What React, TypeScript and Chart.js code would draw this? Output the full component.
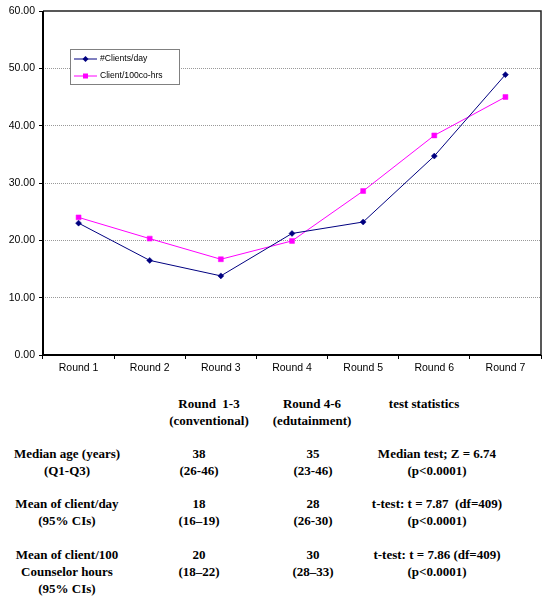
import React, { useEffect, useRef } from "react";
import { Chart, registerables } from "chart.js";

Chart.register(...registerables);

// ---------- data ----------
const rounds = ["Round 1", "Round 2", "Round 3", "Round 4", "Round 5", "Round 6", "Round 7"];
const clientsPerDay = [23.0, 16.5, 13.8, 21.2, 23.2, 34.7, 48.9];
const clientsPer100Hrs = [24.0, 20.3, 16.7, 19.9, 28.6, 38.3, 45.0];
const seriesLabels = ["#Clients/day", "Client/100co-hrs"];
const yMin = 0;
const yMax = 60;
const yStep = 10;

const colHeads = [["Round  1-3", "(conventional)"], ["Round 4-6", "(edutainment)"], ["test statistics"]];
const rowLabels = [["Median age (years)", "(Q1-Q3)"], ["Mean of client/day", "(95% CIs)"], ["Mean of client/100", "Counselor hours", "(95% CIs)"]];
const conventional = [["38", "(26-46)"], ["18", "(16–19)"], ["20", "(18–22)"]];
const edutainment = [["35", "(23-46)"], ["28", "(26-30)"], ["30", "(28–33)"]];
const testStats = [
  ["Median test; Z = 6.74", "(p<0.0001)"],
  ["t-test: t = 7.87  (df=409)", "(p<0.0001)"],
  ["t-test: t = 7.86 (df=409)", "(p<0.0001)"],
];

// ---------- layout ----------
const W = 551;
const CH = 380;
const BLUE = "#000080";
const PINK = "#FF00FF";
const LINE_H = 17;
const headCenters = [209, 312, 424];
const headMid = 403;
const rowMids = [453, 503, 554];
const rowCenters = [67, 199, 313, 437];

const framePlugin = {
  id: "frame",
  beforeDatasetsDraw(chart: any) {
    const { ctx, chartArea: a } = chart;
    ctx.save();
    ctx.strokeStyle = "#222";
    ctx.lineWidth = 1.5;
    ctx.beginPath();
    ctx.moveTo(a.left, a.top);
    ctx.lineTo(a.right, a.top);
    ctx.lineTo(a.right, a.bottom);
    ctx.stroke();
    ctx.strokeStyle = "#000";
    ctx.lineWidth = 2;
    ctx.beginPath();
    ctx.moveTo(a.left, a.top);
    ctx.lineTo(a.left, a.bottom);
    ctx.lineTo(a.right, a.bottom);
    ctx.stroke();
    ctx.restore();
  },
};

const legendPlugin = {
  id: "boxLegend",
  afterDraw(chart: any) {
    const { ctx } = chart;
    const bx = 70.5, by = 49.5, bw = 109, bh = 35;
    ctx.save();
    ctx.fillStyle = "#fff";
    ctx.fillRect(bx, by, bw, bh);
    ctx.strokeStyle = "#808080";
    ctx.lineWidth = 1;
    ctx.strokeRect(bx, by, bw, bh);
    const rows = [59, 76];
    chart.data.datasets.forEach((ds: any, i: number) => {
      const y = rows[i];
      ctx.strokeStyle = ds.borderColor;
      ctx.lineWidth = 1;
      ctx.beginPath();
      ctx.moveTo(74, y);
      ctx.lineTo(97, y);
      ctx.stroke();
      ctx.fillStyle = ds.pointBackgroundColor;
      if (ds.pointStyle === "rectRot") {
        ctx.beginPath();
        ctx.moveTo(85.5, y - 3);
        ctx.lineTo(88.5, y);
        ctx.lineTo(85.5, y + 3);
        ctx.lineTo(82.5, y);
        ctx.closePath();
        ctx.fill();
      } else {
        ctx.fillRect(83, y - 2.5, 5, 5);
      }
      ctx.fillStyle = "#000";
      ctx.font = "8.6px 'Liberation Sans', Arial, sans-serif";
      ctx.textBaseline = "middle";
      ctx.textAlign = "left";
      ctx.fillText(ds.label, 100, y);
    });
    ctx.restore();
  },
};

function ChartCanvas() {
  const ref = useRef<HTMLCanvasElement>(null);
  useEffect(() => {
    if (!ref.current) return;
    Chart.defaults.font.family = "'Liberation Sans', Arial, sans-serif";
    Chart.defaults.color = "#000";
    const chart = new Chart(ref.current, {
      type: "line",
      data: {
        labels: rounds,
        datasets: [
          {
            label: seriesLabels[0],
            data: clientsPerDay,
            borderColor: BLUE,
            backgroundColor: BLUE,
            pointBackgroundColor: BLUE,
            pointBorderColor: BLUE,
            pointStyle: "rectRot",
            pointRadius: 3,
            pointBorderWidth: 0.5,
            borderWidth: 1,
            tension: 0,
          },
          {
            label: seriesLabels[1],
            data: clientsPer100Hrs,
            borderColor: PINK,
            backgroundColor: PINK,
            pointBackgroundColor: PINK,
            pointBorderColor: PINK,
            pointStyle: "rect",
            pointRadius: 3.5,
            pointBorderWidth: 0.5,
            borderWidth: 1,
            tension: 0,
          },
        ],
      },
      options: {
        responsive: false,
        animation: false,
        devicePixelRatio: 1,
        layout: { padding: { top: 11, right: 10, left: 0, bottom: 0 } },
        plugins: {
          legend: { display: false },
          tooltip: { enabled: false },
        },
        scales: {
          x: {
            offset: true,
            grid: {
              offset: true,
              drawOnChartArea: false,
              drawTicks: true,
              tickLength: 4,
              tickColor: "#000",
              tickWidth: 1,
            },
            border: { display: false },
            ticks: {
              font: { size: 10.5 },
              color: "#000",
              padding: 3,
              maxRotation: 0,
              autoSkip: false,
            },
            afterFit: (s: any) => {
              s.height = CH - 355;
            },
          },
          y: {
            min: yMin,
            max: yMax,
            grid: {
              color: (c: any) =>
                c.tick && (c.tick.value === yMin || c.tick.value === yMax) ? "rgba(0,0,0,0)" : "#999999",
              lineWidth: 1,
              tickLength: 4,
              tickColor: "#000",
              tickWidth: 1,
              tickBorderDash: [],
            } as any,
            border: { display: false, dash: [1, 1] },
            ticks: {
              stepSize: yStep,
              font: { size: 10.5 },
              color: "#000",
              padding: 4,
              callback: (v: any) => Number(v).toFixed(2),
            },
            afterFit: (s: any) => {
              s.width = 43;
            },
          },
        },
      } as any,
      plugins: [framePlugin, legendPlugin],
    });
    return () => chart.destroy();
  }, []);
  return <canvas ref={ref} width={W} height={CH} style={{ display: "block", width: W, height: CH }} />;
}

const textStyle: React.CSSProperties = {
  position: "absolute",
  width: 240,
  textAlign: "center",
  whiteSpace: "pre",
  fontFamily: "'Liberation Serif', 'Times New Roman', serif",
  fontWeight: "bold",
  fontSize: 13,
  lineHeight: `${LINE_H}px`,
  color: "#000",
};

function Cell({ lines, cx, midFirst }: { lines: string[]; cx: number; midFirst: number }) {
  return (
    <div style={{ ...textStyle, left: cx - 120, top: midFirst - LINE_H / 2 }}>
      {lines.join("\n")}
    </div>
  );
}

export default function App() {
  return (
    <div style={{ position: "absolute", left: 0, top: 0, width: W, height: 600, background: "#fff", overflow: "hidden" }}>
      <ChartCanvas />
      {colHeads.map((l, i) => (
        <Cell key={"h" + i} lines={l} cx={headCenters[i]} midFirst={headMid} />
      ))}
      {rowLabels.map((l, i) => (
        <Cell key={"l" + i} lines={l} cx={rowCenters[0]} midFirst={rowMids[i]} />
      ))}
      {conventional.map((l, i) => (
        <Cell key={"c" + i} lines={l} cx={rowCenters[1]} midFirst={rowMids[i]} />
      ))}
      {edutainment.map((l, i) => (
        <Cell key={"e" + i} lines={l} cx={rowCenters[2]} midFirst={rowMids[i]} />
      ))}
      {testStats.map((l, i) => (
        <Cell key={"t" + i} lines={l} cx={rowCenters[3]} midFirst={rowMids[i]} />
      ))}
    </div>
  );
}
